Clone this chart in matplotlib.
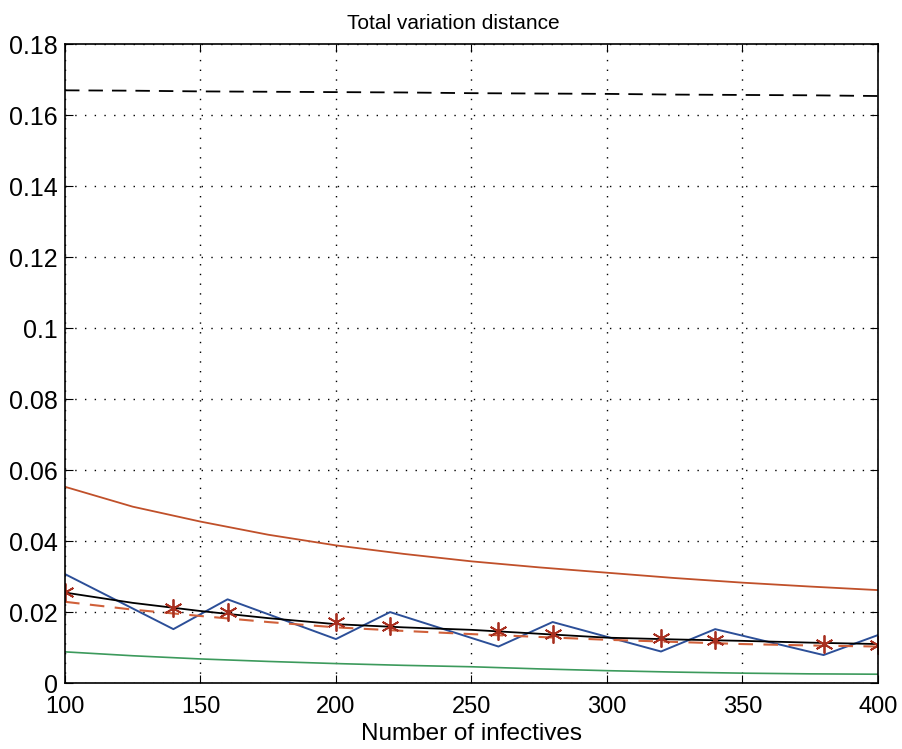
import numpy as np
import matplotlib
matplotlib.use("Agg")
import matplotlib.pyplot as plt
from matplotlib.ticker import FuncFormatter

plt.rcParams['font.family'] = ['Liberation Sans', 'DejaVu Sans']

# x grid of the simulated points
n_sim = [100, 140, 160, 200, 220, 260, 280, 320, 340, 380, 400]
tv_sim = [0.0307, 0.0152, 0.0236, 0.0124, 0.0200, 0.0103, 0.0172, 0.0089, 0.0152, 0.0079, 0.0135]
tv_star = [0.0258, 0.0211, 0.0199, 0.0172, 0.0161, 0.0147, 0.0138, 0.0128, 0.0121, 0.0110, 0.0107]

# smooth curves
n_curve = [100, 125, 150, 175, 200, 225, 250, 275, 300, 325, 350, 375, 400]
tv_orange = [0.0553, 0.0497, 0.0455, 0.0418, 0.0388, 0.0364, 0.0343, 0.0326, 0.0311, 0.0296, 0.0283, 0.0272, 0.0262]
tv_black = [0.0255, 0.0226, 0.0203, 0.0183, 0.0166, 0.0157, 0.0150, 0.0139, 0.0128, 0.0123, 0.0119, 0.0114, 0.0110]
tv_reddash = [0.0229, 0.0207, 0.0189, 0.0172, 0.0157, 0.0147, 0.0138, 0.0130, 0.0122, 0.0116, 0.0110, 0.0106, 0.0103]
tv_green = [0.0088, 0.0077, 0.0068, 0.0061, 0.0055, 0.0050, 0.0046, 0.0040, 0.0035, 0.0031, 0.0028, 0.0026, 0.0025]
tv_top = [0.1670, 0.1669, 0.1667, 0.1666, 0.1665, 0.1664, 0.1662, 0.1661, 0.1660, 0.1658, 0.1657, 0.1656, 0.1654]

fig = plt.figure(figsize=(9.03, 7.49), dpi=100)
ax = fig.add_axes([0.072, 0.088, 0.900, 0.853])

ax.plot(n_curve, tv_top, color='black', lw=1.3, dashes=(8, 5))
ax.plot(n_curve, tv_orange, color='#c0502a', lw=1.3)
ax.plot(n_curve, tv_green, color='#3c9a5c', lw=1.2)
ax.plot(n_sim, tv_sim, color='#2c4f98', lw=1.4)
ax.plot(n_curve, tv_black, color='black', lw=1.3)
ax.plot(n_curve, tv_reddash, color='#d0603a', lw=1.5, dashes=(7, 5))
ax.plot(n_sim, tv_star, linestyle='none', marker=(6, 2, 0), ms=13, mew=1.3,
        color='#a83020')

ax.set_xlim(100, 400)
ax.set_ylim(0, 0.18)
ax.set_xticks(np.arange(100, 401, 50))
ax.set_yticks(np.arange(0, 0.181, 0.02))
ax.yaxis.set_major_formatter(FuncFormatter(lambda v, p: '%g' % round(v, 2)))
ax.grid(True, color='black', lw=1.0, dashes=(1, 6))
ax.tick_params(direction='in', top=True, right=True, length=6)
ax.tick_params(axis='y', pad=5, labelsize=18)
ax.tick_params(axis='x', pad=9, labelsize=17)
for s in ax.spines.values():
    s.set_linewidth(1.2)

ax.set_title('Total variation distance', fontsize=15, pad=11, x=0.478)
ax.set_xlabel('Number of infectives', fontsize=17.5, labelpad=4)

fig.savefig('out.png', dpi=100)
